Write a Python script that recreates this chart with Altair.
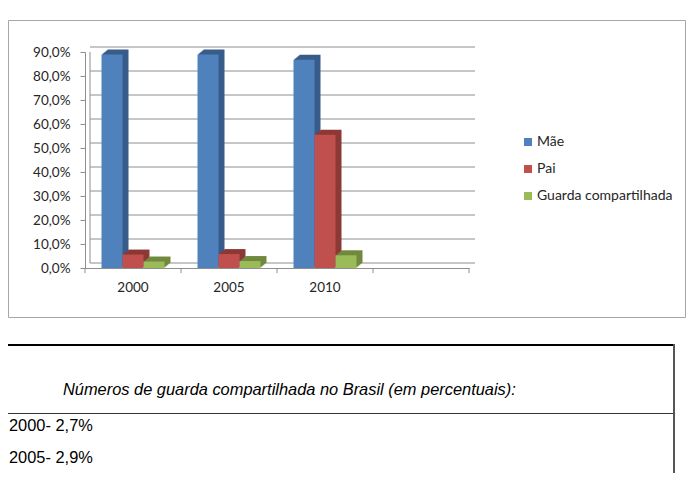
import altair as alt
import pandas as pd

# ---------------- data ----------------
years = ["2000", "2005", "2010"]
slots = years + [" "]                      # fourth, empty category slot
series = ["Mãe", "Pai", "Guarda compartilhada"]
mae = [0.890, 0.890, 0.868]
pai = [0.056, 0.058, 0.555]
guarda = [0.027, 0.029, 0.053]
front_colors = ["#4F81BD", "#C0504D", "#9BBB59"]
side_colors = ["#385D8A", "#8C3836", "#71893F"]
y_ticks = [0.0, 0.1, 0.2, 0.3, 0.4, 0.5, 0.6, 0.7, 0.8, 0.9]
table_title = "Números de guarda compartilhada no Brasil (em percentuais):"
table_lines = ["2000- 2,7%", "2005- 2,9%"]

rows = []
for i, yr in enumerate(years):
    for s, vals in zip(series, [mae, pai, guarda]):
        rows.append({"ano": yr, "serie": s, "valor": vals[i]})
df = pd.DataFrame(rows)
df_ticks = pd.DataFrame({"v": y_ticks})
df_wall = pd.DataFrame({"lo": [y_ticks[0]], "hi": [y_ticks[-1]]})
df_slots = pd.DataFrame({"ano": slots})
one = pd.DataFrame({"a": [0]})

# ---------------- layout ----------------
W, H = 384, 216
BAND = W / len(slots)
BAR_W = 21
DX, DY = 6, 5          # 3D depth
FONT = "Lato"
GRID = "#8E8E8E"

xscale = alt.Scale(domain=slots, paddingInner=0, paddingOuter=0)
yscale = alt.Scale(domain=[0, 0.9], nice=False, zero=True)
cscale = alt.Scale(domain=series, range=front_colors)

y_axis = alt.Axis(values=y_ticks, title=None, grid=False,
                  labelExpr="replace(format(datum.value, '.1%'), '.', ',')",
                  tickSize=5, labelPadding=10, domainColor=GRID, tickColor=GRID,
                  labelFont=FONT, labelFontSize=13.5, labelColor="#262626")
x_axis = alt.Axis(title=None, grid=False, labelAngle=0, ticks=False,
                  labelPadding=12, domainColor=GRID,
                  labelFont=FONT, labelFontSize=13.5, labelColor="#262626")
legend = alt.Legend(title=None, orient="none", legendX=436, legendY=83,
                    symbolType="square", symbolSize=64,
                    labelFont=FONT, labelFontSize=14, labelColor="#262626",
                    rowPadding=13, labelOffset=2)


def bar_layer(j, shift, front):
    base = alt.Chart(df).transform_filter(alt.datum.serie == series[j])
    mark = base.mark_bar(width=BAR_W, xOffset=(j - 1) * BAR_W + shift,
                         yOffset=-shift * DY / DX)
    enc = dict(
        x=alt.X("ano:N", scale=xscale, axis=x_axis),
        y=alt.Y("valor:Q", scale=yscale, axis=y_axis),
    )
    if front:
        enc["color"] = alt.Color("serie:N", scale=cscale, legend=legend)
    else:
        enc["color"] = alt.value(side_colors[j])
    return mark.encode(**enc)


layers = []
# outer chart frame
layers.append(alt.Chart(one).mark_rect(fillOpacity=0, stroke="#A6A6A6", strokeWidth=1).encode(
    x=alt.value(-76.5), x2=alt.value(600.5), y=alt.value(-31.5), y2=alt.value(265.5)))
# back-wall gridlines
layers.append(alt.Chart(df_ticks).mark_rule(yOffset=-DY, color=GRID, strokeWidth=1).encode(
    x=alt.value(DX - 1), x2=alt.value(W + DX),
    y=alt.Y("v:Q", scale=yscale, axis=y_axis)))
# back wall left edge
layers.append(alt.Chart(df_wall).mark_rule(yOffset=-DY, color=GRID).encode(
    x=alt.value(DX - 1), y=alt.Y("lo:Q", scale=yscale, axis=y_axis), y2="hi:Q"))
# category boundary ticks on the x axis
layers.append(alt.Chart(df_slots).mark_rule(xOffset=-BAND / 2, color=GRID).encode(
    x=alt.X("ano:N", scale=xscale, axis=x_axis), y=alt.value(H), y2=alt.value(H + 5)))
layers.append(alt.Chart(one).mark_rule(color=GRID).encode(
    x=alt.value(W), y=alt.value(H), y2=alt.value(H + 5)))
# bars: stepped side/top faces, then front faces
for j in range(len(series)):
    for k in range(DX, 0, -1):
        layers.append(bar_layer(j, k, False))
    layers.append(bar_layer(j, 0, True))

# table below the chart
layers.append(alt.Chart(one).mark_rule(color="#000000", strokeWidth=2).encode(
    x=alt.value(-85), x2=alt.value(590), y=alt.value(293)))
layers.append(alt.Chart(one).mark_rule(color="#333333", strokeWidth=1).encode(
    x=alt.value(-85), x2=alt.value(589), y=alt.value(361.5)))
layers.append(alt.Chart(one).mark_rule(color="#555555", strokeWidth=2).encode(
    x=alt.value(589), y=alt.value(292), y2=alt.value(440)))
layers.append(alt.Chart(pd.DataFrame({"t": [table_title]})).mark_text(
    align="left", baseline="middle", font="Liberation Sans", fontSize=16.4,
    fontStyle="italic", color="#000000").encode(
    x=alt.value(-22), y=alt.value(338), text="t:N"))
for i, line in enumerate(table_lines):
    layers.append(alt.Chart(pd.DataFrame({"t": [line]})).mark_text(
        align="left", baseline="middle", font="Liberation Sans", fontSize=16.4,
        color="#000000").encode(
        x=alt.value(-76), y=alt.value(374 + 32 * i), text="t:N"))

chart = alt.layer(*layers).properties(
    width=W, height=H,
    autosize=alt.AutoSizeParams(type="none"),
    padding={"left": 77, "top": 44, "right": 218, "bottom": 205},
).configure_view(stroke=None)

chart.save("out.html", embed_options={"renderer": "svg", "actions": False})
